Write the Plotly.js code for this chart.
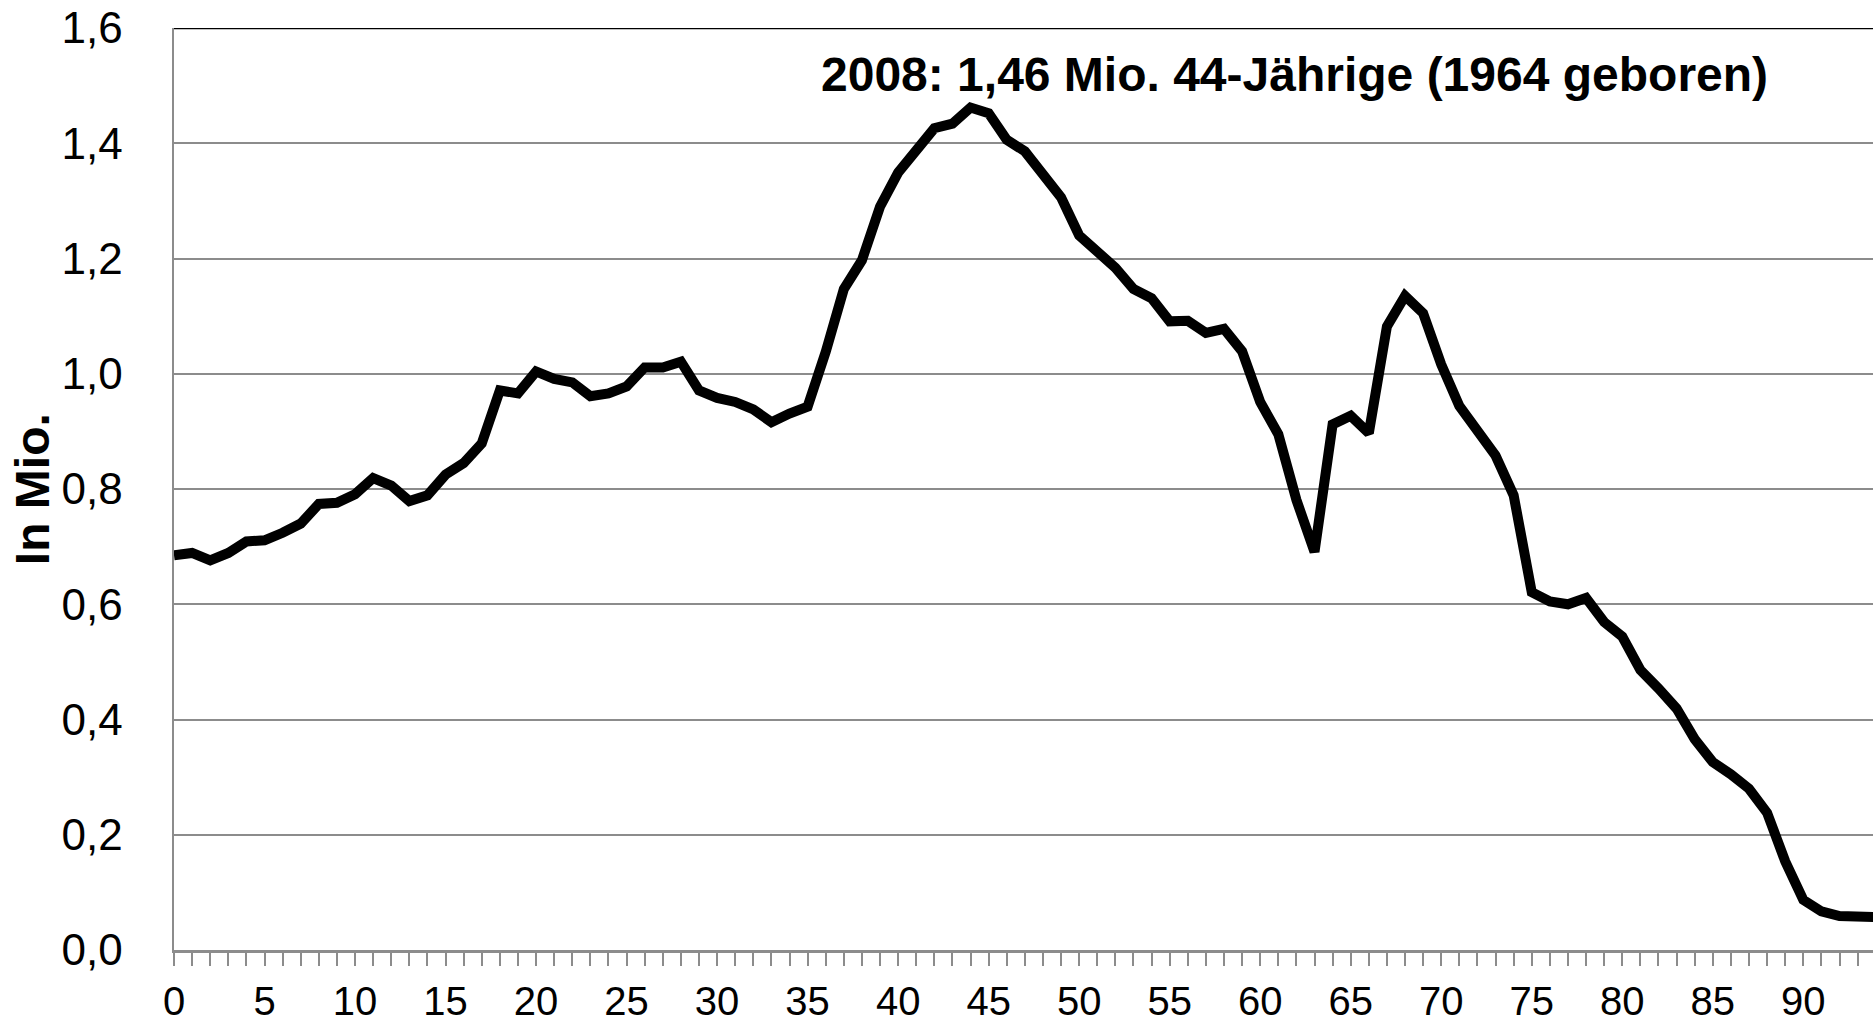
<!DOCTYPE html>
<html>
<head>
<meta charset="utf-8">
<script src="https://cdn.plot.ly/plotly-3.0.1.min.js"></script>
<style>
  html, body { margin: 0; padding: 0; background: #fff; }
  #chart { width: 1873px; height: 1022px; }
</style>
</head>
<body>
<div id="chart"></div>
<script>
// Alter in Jahren (0 ... 94)
var ages = [0,1,2,3,4,5,6,7,8,9,10,11,12,13,14,15,16,17,18,19,
            20,21,22,23,24,25,26,27,28,29,30,31,32,33,34,35,36,37,38,39,
            40,41,42,43,44,45,46,47,48,49,50,51,52,53,54,55,56,57,58,59,
            60,61,62,63,64,65,66,67,68,69,70,71,72,73,74,75,76,77,78,79,
            80,81,82,83,84,85,86,87,88,89,90,91,92,93,94];

// Bevölkerung 2008 in Mio. nach Alter
var population = [0.685,0.689,0.676,0.689,0.709,0.711,0.724,0.740,0.774,0.776,
                  0.791,0.819,0.806,0.779,0.789,0.825,0.845,0.879,0.971,0.966,
                  1.004,0.991,0.985,0.961,0.966,0.978,1.011,1.011,1.021,0.971,
                  0.958,0.951,0.938,0.916,0.931,0.943,1.038,1.147,1.197,1.290,
                  1.349,1.386,1.426,1.434,1.462,1.452,1.406,1.386,1.349,1.306,
                  1.240,1.213,1.184,1.147,1.131,1.091,1.092,1.071,1.078,1.039,
                  0.951,0.895,0.781,0.691,0.912,0.927,0.897,1.082,1.135,1.105,
                  1.016,0.944,0.904,0.858,0.789,0.621,0.605,0.600,0.611,0.569,
                  0.544,0.486,0.454,0.419,0.366,0.326,0.305,0.280,0.238,0.154,
                  0.087,0.067,0.059,0.058,0.057];

var yTicks = [0, 0.2, 0.4, 0.6, 0.8, 1.0, 1.2, 1.4, 1.6];
var xTicks = [0,5,10,15,20,25,30,35,40,45,50,55,60,65,70,75,80,85,90];

var annotationText = "2008: 1,46 Mio. 44-Jährige (1964 geboren)";
var yTitleText = "In Mio.";

var trace = {
  x: ages,
  y: population,
  type: 'scatter',
  mode: 'lines',
  line: { color: '#000000', width: 10, shape: 'linear' },
  hoverinfo: 'skip',
  showlegend: false
};

var layout = {
  width: 1873,
  height: 1022,
  margin: { l: 174, r: 0, t: 28, b: 72, pad: 0 },
  paper_bgcolor: '#ffffff',
  plot_bgcolor: '#ffffff',
  separators: ',.',
  font: { family: 'Liberation Sans, Arial, sans-serif', color: '#000000' },
  xaxis: {
    range: [0, 93.85],
    tickvals: xTicks,
    ticktext: xTicks.map(String),
    ticks: 'outside',
    ticklen: 13,
    tickwidth: 2,
    tickcolor: '#8c8c8c',
    minor: { dtick: 1, tick0: 0, ticks: 'outside', ticklen: 13, tickwidth: 2, tickcolor: '#8c8c8c', showgrid: false },
    showline: true,
    linecolor: '#8c8c8c',
    linewidth: 2.5,
    showgrid: false,
    zeroline: false,
    tickfont: { size: 40, family: 'Liberation Sans, Arial, sans-serif', color: '#000' },
    ticklabelstandoff: 1,
    fixedrange: true
  },
  yaxis: {
    range: [0, 1.6],
    tickvals: yTicks,
    tickformat: '.1f',
    ticks: '',
    showline: true,
    linecolor: '#8c8c8c',
    linewidth: 2.5,
    showgrid: true,
    gridcolor: '#8c8c8c',
    gridwidth: 2,
    zeroline: false,
    tickfont: { size: 44, family: 'Liberation Sans, Arial, sans-serif', color: '#000' },
    ticklabelstandoff: 40,
    fixedrange: true
  },
  shapes: [
    { type: 'line', xref: 'paper', yref: 'y', x0: 0, x1: 1, y0: 1.6, y1: 1.6,
      line: { color: '#000000', width: 2.5 }, layer: 'above' }
  ],
  annotations: [
    { text: annotationText, xref: 'x', yref: 'y', x: 61.9, y: 1.52,
      xanchor: 'center', yanchor: 'middle', showarrow: false,
      font: { size: 48, family: 'Liberation Sans, Arial, sans-serif', color: '#000', weight: 'bold' } },
    { text: yTitleText, xref: 'paper', yref: 'paper', x: -0.0835, y: 0.5,
      xanchor: 'center', yanchor: 'middle', textangle: -90, showarrow: false,
      font: { size: 48, family: 'Liberation Sans, Arial, sans-serif', color: '#000', weight: 'bold' } }
  ]
};

Plotly.newPlot('chart', [trace], layout, { staticPlot: true, displayModeBar: false });
</script>
</body>
</html>
